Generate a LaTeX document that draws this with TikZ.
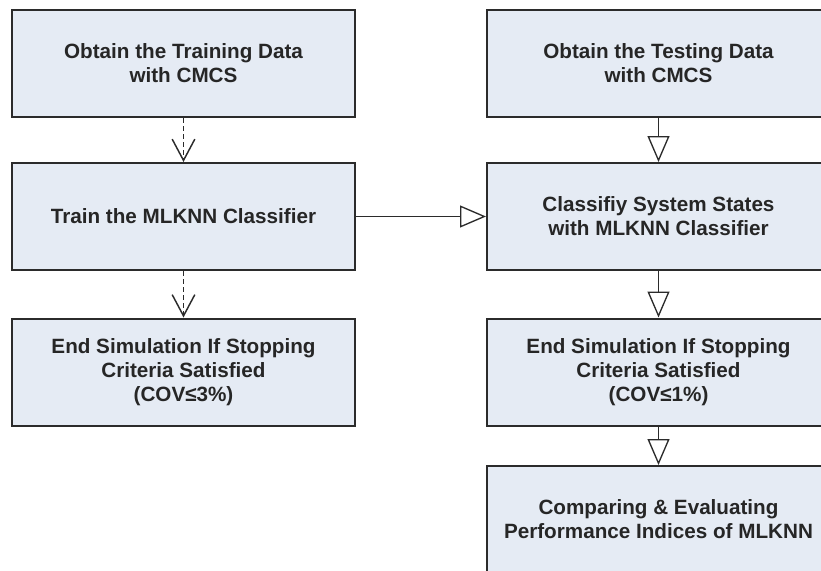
\documentclass[tikz,border=0pt]{standalone}
\usepackage{fontspec}
\setmainfont{Liberation Sans}
\usetikzlibrary{arrows.meta}
\definecolor{boxfill}{HTML}{E5EBF4}
\definecolor{boxline}{HTML}{2B2B2B}
\begin{document}
\begin{tikzpicture}[x=0.75pt,y=-0.75pt,
  stepbox/.style={draw=boxline, line width=1.5pt, fill=boxfill, minimum width=257.25pt, minimum height=80.25pt,
    inner sep=0pt, align=center, font=\fontsize{15.5}{18}\selectfont\bfseries, text=black!85},
  solidarrow/.style={draw=boxline, line width=1pt, -{Triangle[open, length=19.5pt, width=16.5pt, line width=1pt]}},
  dasharrow/.style={draw=boxline, line width=1pt, dash pattern=on 4pt off 2pt, -{Straight Barb[length=16pt, width=17pt, line width=1.1pt]}}]
\useasboundingbox (0,0) rectangle (821,571);
\clip (0,0) rectangle (821,571);
\node[stepbox] (a1) at (183.5,63.5) {Obtain the Training Data\\with CMCS};
\node[stepbox] (a2) at (183.5,216.5) {Train the MLKNN Classifier};
\node[stepbox] (a3) at (183.5,372) {End Simulation If Stopping\\Criteria Satisfied\\(COV≤3\%)};
\node[stepbox] (b1) at (658.5,63.5) {Obtain the Testing Data\\with CMCS};
\node[stepbox] (b2) at (658.5,216.5) {Classifiy System States\\with MLKNN Classifier};
\node[stepbox] (b3) at (658.5,372) {End Simulation If Stopping\\Criteria Satisfied\\(COV≤1\%)};
\node[stepbox] (b4) at (658.5,519.5) {Comparing \& Evaluating\\Performance Indices of MLKNN};
\draw[dasharrow] (a1) -- (a2);
\draw[dasharrow] (a2) -- (a3);
\draw[solidarrow] (b1) -- (b2);
\draw[solidarrow] (b2) -- (b3);
\draw[solidarrow] (b3) -- (b4);
\draw[solidarrow] (a2) -- (b2);
\end{tikzpicture}
\end{document}
